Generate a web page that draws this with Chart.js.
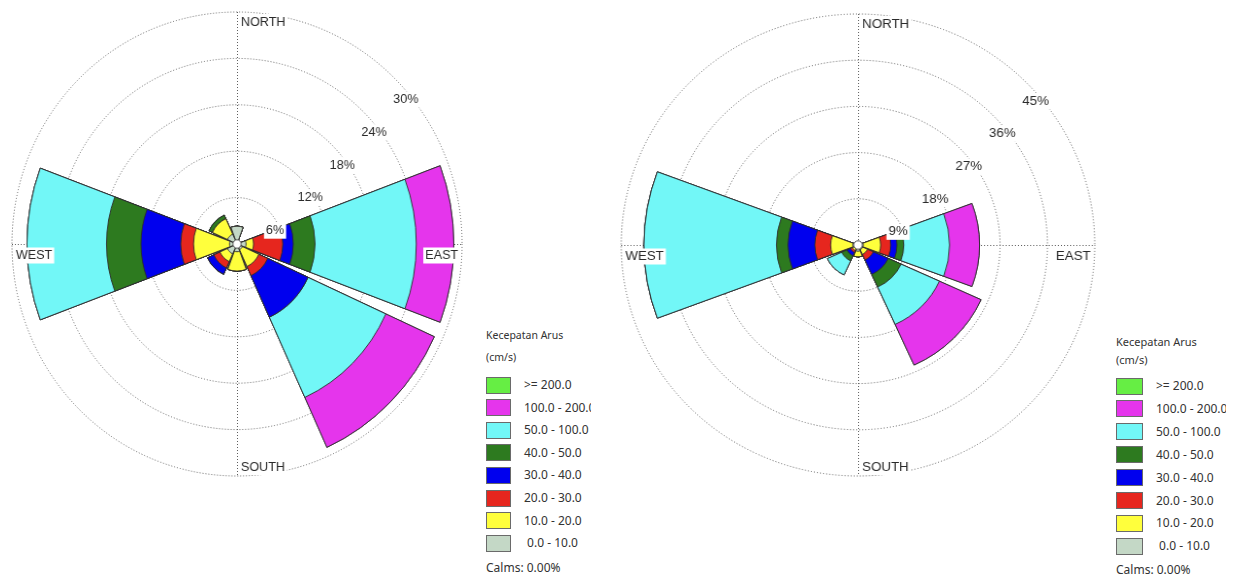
<!DOCTYPE html>
<html>
<head>
<meta charset="utf-8">
<script src="https://cdn.jsdelivr.net/npm/chart.js@4.4.1/dist/chart.umd.min.js"></script>
<style>
  html, body { margin: 0; padding: 0; background: #ffffff; }
  body { width: 1240px; height: 579px; position: relative; overflow: hidden; }
  .rose { position: absolute; transform-origin: 50% 50%; }
  .legend { position: absolute; top: 0; height: 579px; overflow: hidden; color: #333; font-family: "Noto Sans", "DejaVu Sans", sans-serif; }
  .legend div { position: absolute; white-space: pre; }
  .legend .sw { border: 1px solid #6a6a6a; box-sizing: border-box; }
</style>
</head>
<body>
<div class="rose" id="wrapA" style="left:1px; top:8px; width:472px; height:472px; transform:scaleX(0.97);">
  <canvas id="roseA" width="472" height="472"></canvas>
</div>
<div class="rose" id="wrapB" style="left:623px; top:10px; width:470px; height:470px; transform:scaleX(1.025);">
  <canvas id="roseB" width="470" height="470"></canvas>
</div>
<div class="legend" id="legA"></div>
<div class="legend" id="legB"></div>

<script>
// Compass sectors (clockwise from north) and current-speed classes (cm/s)
const directions = ['N', 'NE', 'E', 'SE', 'S', 'SW', 'W', 'NW'];
const speedBands = [' 0.0 - 10.0', '10.0 - 20.0', '20.0 - 30.0', '30.0 - 40.0',
                    '40.0 - 50.0', '50.0 - 100.0', '100.0 - 200.0', '>= 200.0'];
const bandColors = ['#c4d8c6', '#ffff3c', '#e6261e', '#0000ee',
                    '#2d7a1f', '#72f7f7', '#e535ec', '#66ee44'];
const legendTitle = ['Kecepatan Arus', '(cm/s)'];
const calmsText = 'Calms: 0.00%';
const compassNames = { north: 'NORTH', south: 'SOUTH', west: 'WEST', east: 'EAST' };

// Rose A: frequency (%) per direction for each speed class
const roseA_0_10    = [2.3, 0, 1.2, 0.8, 1.0, 1.4, 1.0, 1.4];
const roseA_10_20   = [0, 0, 1.0, 2.4, 2.5, 1.1, 4.8, 2.2];
const roseA_20_30   = [0, 0, 3.9, 1.3, 0, 0.9, 1.7, 0];
const roseA_30_40   = [0, 0, 1.4, 5.9, 0, 0.9, 5.3, 0];
const roseA_40_50   = [0, 0, 2.9, 0, 0, 0, 4.6, 0.5];
const roseA_50_100  = [0, 0, 13.5, 11.4, 0, 0, 10.6, 0];
const roseA_100_200 = [0, 0, 5.0, 7.1, 0, 0, 0, 0];
const roseA_200     = [0, 0, 0, 0, 0, 0, 0, 0];
const roseATicks    = [6, 12, 18, 24, 30];

// Rose B: frequency (%) per direction for each speed class
const roseB_0_10    = [0, 0, 1.0, 1.0, 1.2, 0.8, 1.0, 0];
const roseB_10_20   = [0, 0, 3.3, 1.0, 1.1, 0.4, 4.2, 0];
const roseB_20_30   = [0, 0, 1.9, 1.2, 0, 0.4, 3.0, 0];
const roseB_30_40   = [0, 0, 1.2, 3.1, 0, 0.7, 5.1, 0];
const roseB_40_50   = [0, 0, 1.3, 2.7, 0, 1.1, 2.2, 0];
const roseB_50_100  = [0, 0, 8.7, 8.0, 0, 3.0, 25.2, 0];
const roseB_100_200 = [0, 0, 5.7, 8.7, 0, 0, 0, 0];
const roseB_200     = [0, 0, 0, 0, 0, 0, 0, 0];
const roseBTicks    = [9, 18, 27, 36, 45];

// Each direction gets a wedge; a thin empty slot separates neighbours
const SECTOR_DEG = 41;
const GAP_DEG = 4;

const textFont = '13px "Liberation Sans", Arial, sans-serif';
const textColor = '#2a2a2a';
const gridColor = '#5e5e5e';

function withGaps(values) {
  const out = [];
  values.forEach(v => { out.push(v); out.push(0); });
  return out;
}

function labelWithBackdrop(ctx, text, x, y, align) {
  ctx.font = textFont;
  ctx.textBaseline = 'middle';
  ctx.textAlign = align;
  const w = ctx.measureText(text).width;
  const left = align === 'right' ? x - w : x;
  ctx.fillStyle = '#ffffff';
  ctx.fillRect(left - 2, y - 8, w + 4, 16);
  ctx.fillStyle = textColor;
  ctx.fillText(text, x, y);
}

const roseDecor = {
  id: 'roseDecor',
  beforeDatasetsDraw(chart) {
    const s = chart.scales.r;
    const ctx = chart.ctx;
    const R = s.drawingArea;
    ctx.save();
    ctx.strokeStyle = gridColor;
    ctx.lineWidth = 1;
    ctx.setLineDash([1, 2]);
    ctx.beginPath();
    ctx.moveTo(s.xCenter + 0.5, s.yCenter - R);
    ctx.lineTo(s.xCenter + 0.5, s.yCenter + R);
    ctx.moveTo(s.xCenter - R, s.yCenter + 0.5);
    ctx.lineTo(s.xCenter + R, s.yCenter + 0.5);
    ctx.stroke();
    ctx.restore();
  },
  afterDatasetsDraw(chart) {
    const s = chart.scales.r;
    const ctx = chart.ctx;
    const cx = s.xCenter, cy = s.yCenter, R = s.drawingArea;
    ctx.save();
    // calm circle in the middle
    ctx.beginPath();
    ctx.arc(cx, cy, 4.2, 0, Math.PI * 2);
    ctx.fillStyle = '#ffffff';
    ctx.fill();
    ctx.lineWidth = 1;
    ctx.strokeStyle = '#555';
    ctx.stroke();
    // ring values along the north-east diagonal
    const ticks = chart.options.plugins.roseDecor.ticks;
    const d = Math.SQRT1_2;
    ticks.forEach(v => {
      const r = s.getDistanceFromCenterForValue(v);
      labelWithBackdrop(ctx, v + '%', cx + r * d - 3, cy - r * d + 19.5, 'left');
    });
    // compass names
    labelWithBackdrop(ctx, compassNames.north, cx + 4, cy - R + 10, 'left');
    labelWithBackdrop(ctx, compassNames.south, cx + 4, cy + R - 9, 'left');
    labelWithBackdrop(ctx, compassNames.west, cx - R + 4, cy + 11.5, 'left');
    labelWithBackdrop(ctx, compassNames.east, cx + R - 4, cy + 11.5, 'right');
    ctx.restore();
  }
};

function buildRose(canvasId, bands, ticks) {
  // stack the classes: each dataset reaches the running total of its class
  let running = directions.map(() => 0);
  const totals = bands.map(b => {
    running = running.map((r, i) => Math.round((r + b[i]) * 100) / 100);
    return running.slice();
  });
  const datasets = totals.map((tot, k) => ({
    label: speedBands[k],
    data: withGaps(tot),
    backgroundColor: bandColors[k],
    borderColor: '#2b2b2b',
    borderWidth: c => (c.raw > 0 ? 0.9 : 0),
    angle: c => (c.dataIndex % 2 === 0 ? SECTOR_DEG : GAP_DEG)
  }));
  const labels = [];
  directions.forEach(dn => { labels.push(dn); labels.push(''); });

  return new Chart(document.getElementById(canvasId), {
    type: 'polarArea',
    data: { labels, datasets },
    options: {
      responsive: false,
      animation: false,
      devicePixelRatio: 1,
      events: [],
      layout: { padding: 4 },
      plugins: {
        legend: { display: false },
        tooltip: { enabled: false },
        roseDecor: { ticks }
      },
      scales: {
        r: {
          min: 0,
          max: ticks[ticks.length - 1],
          startAngle: -SECTOR_DEG / 2,
          ticks: { display: false, stepSize: ticks[0] },
          grid: { circular: true, color: gridColor, lineWidth: 1 },
          border: { dash: [1, 2] },
          angleLines: { display: false },
          pointLabels: { display: false }
        }
      }
    },
    plugins: [roseDecor]
  });
}

buildRose('roseA',
  [roseA_0_10, roseA_10_20, roseA_20_30, roseA_30_40, roseA_40_50, roseA_50_100, roseA_100_200, roseA_200],
  roseATicks);
buildRose('roseB',
  [roseB_0_10, roseB_10_20, roseB_20_30, roseB_30_40, roseB_40_50, roseB_50_100, roseB_100_200, roseB_200],
  roseBTicks);

// Speed-class legends
function buildLegend(id, cfg) {
  const box = document.getElementById(id);
  box.style.left = cfg.x + 'px';
  box.style.width = cfg.clipW + 'px';
  const put = (text, y, size) => {
    const el = document.createElement('div');
    el.textContent = text;
    el.style.left = '0px';
    el.style.fontSize = size + 'px';
    el.style.lineHeight = '16px';
    el.style.top = (y - 8) + 'px';
    box.appendChild(el);
    return el;
  };
  put(legendTitle[0], cfg.titleY[0], cfg.titleFont);
  put(legendTitle[1], cfg.titleY[1], cfg.titleFont);
  const order = speedBands.map((_, i) => i).reverse();
  order.forEach((k, row) => {
    const yc = cfg.rowY0 + row * cfg.rowStep;
    const sw = document.createElement('div');
    sw.className = 'sw';
    sw.style.left = '0px';
    sw.style.top = (yc - cfg.swH / 2) + 'px';
    sw.style.width = cfg.swW + 'px';
    sw.style.height = cfg.swH + 'px';
    sw.style.background = bandColors[k];
    box.appendChild(sw);
    const lab = put(speedBands[k], yc, cfg.font);
    lab.style.left = cfg.labelDX + 'px';
  });
  put(calmsText, cfg.calmY, cfg.font);
}

buildLegend('legA', { x: 486, clipW: 105, titleY: [335, 357], titleFont: 10.5, font: 12,
  rowY0: 385, rowStep: 22.6, swW: 25, swH: 17, labelDX: 38, calmY: 568 });
buildLegend('legB', { x: 1116, clipW: 110, titleY: [342, 360], titleFont: 11, font: 12,
  rowY0: 386, rowStep: 22.9, swW: 27, swH: 17, labelDX: 40, calmY: 570 });
</script>
</body>
</html>
